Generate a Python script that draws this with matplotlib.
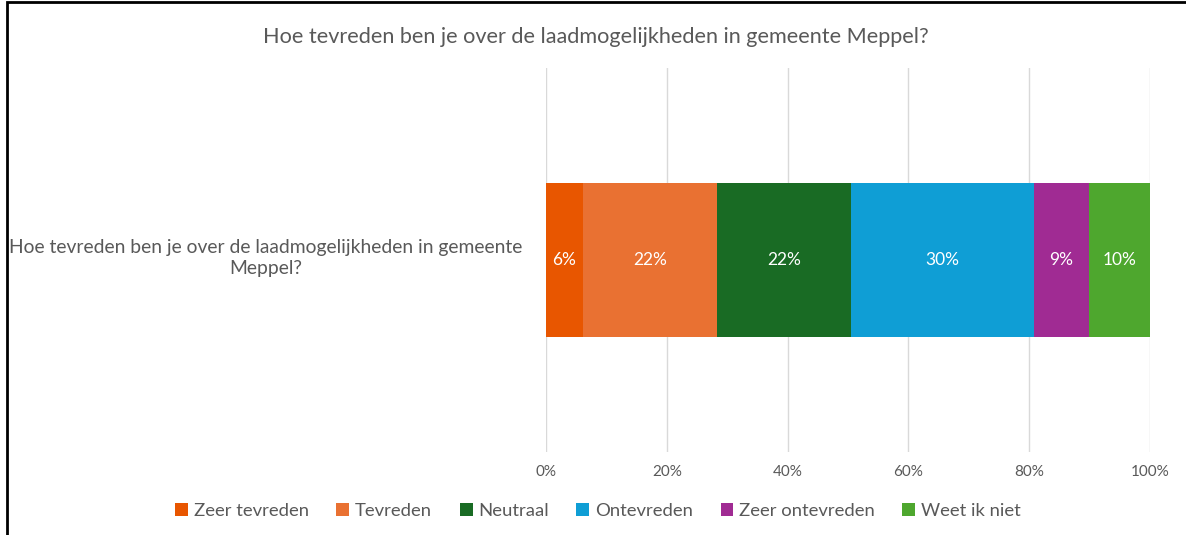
import numpy as np
import matplotlib
matplotlib.use("Agg")
import matplotlib.pyplot as plt
from matplotlib.patches import Rectangle

TITLE = "Hoe tevreden ben je over de laadmogelijkheden in gemeente Meppel?"
CATEGORY = "Hoe tevreden ben je over de laadmogelijkheden in gemeente\nMeppel?"
LABELS = ["Zeer tevreden", "Tevreden", "Neutraal", "Ontevreden", "Zeer ontevreden", "Weet ik niet"]
VALUES = [6, 22, 22, 30, 9, 10]
COLORS = ["#E85600", "#E97132", "#196B24", "#0F9ED5", "#A02B93", "#4EA72E"]
XTICKS = [0, 20, 40, 60, 80, 100]

TEXT = "#595959"
plt.rcParams["font.family"] = ["Lato", "DejaVu Sans"]

fig = plt.figure(figsize=(11.86, 5.35), dpi=100)
ax = fig.add_axes([546 / 1186, 1 - 452 / 535, 604 / 1186, 384 / 535])

# 100% stacked: normalise the shares
vals = np.array(VALUES, dtype=float)
shares = vals / vals.sum() * 100
left = 0.0
for lab, v, s, c in zip(LABELS, VALUES, shares, COLORS):
    ax.barh(0, s, left=left, height=0.40, color=c, label=lab, zorder=3)
    ax.text(left + s / 2, 0, f"{v}%", ha="center", va="center",
            color="white", fontsize=12.5, zorder=4)
    left += s

ax.set_xlim(0, 100)
ax.set_ylim(-0.5, 0.5)
ax.set_xticks(XTICKS)
ax.set_xticklabels([f"{t}%" for t in XTICKS], color=TEXT, fontsize=11)
ax.tick_params(axis="x", length=0, pad=9)
ax.set_yticks([])
ax.grid(axis="x", color="#D9D9D9", linewidth=1, zorder=0)
for sp in ax.spines.values():
    sp.set_visible(False)

fig.text(522 / 1186, 1 - 258 / 535, CATEGORY, ha="right", va="center",
         multialignment="center", color=TEXT, fontsize=13.9, linespacing=1.25)

fig.text(596 / 1186, 1 - 37 / 535, TITLE, ha="center", va="center",
         color=TEXT, fontsize=15.6)

handles, labels = ax.get_legend_handles_labels()
fig.legend(handles, labels, loc="center", bbox_to_anchor=(598 / 1186, 1 - 511 / 535),
           ncol=6, frameon=False, fontsize=13.3, handlelength=0.7, handleheight=0.7,
           handletextpad=0.3, columnspacing=1.5, labelcolor=TEXT)

# outer chart border (left and top edges visible in the reference)
fig.patches.append(Rectangle((7 / 1186, -0.1), 1.2, 1.1 - 1.5 / 535, transform=fig.transFigure,
                             fill=False, edgecolor="black", linewidth=2))

fig.savefig("out.png", dpi=100)
